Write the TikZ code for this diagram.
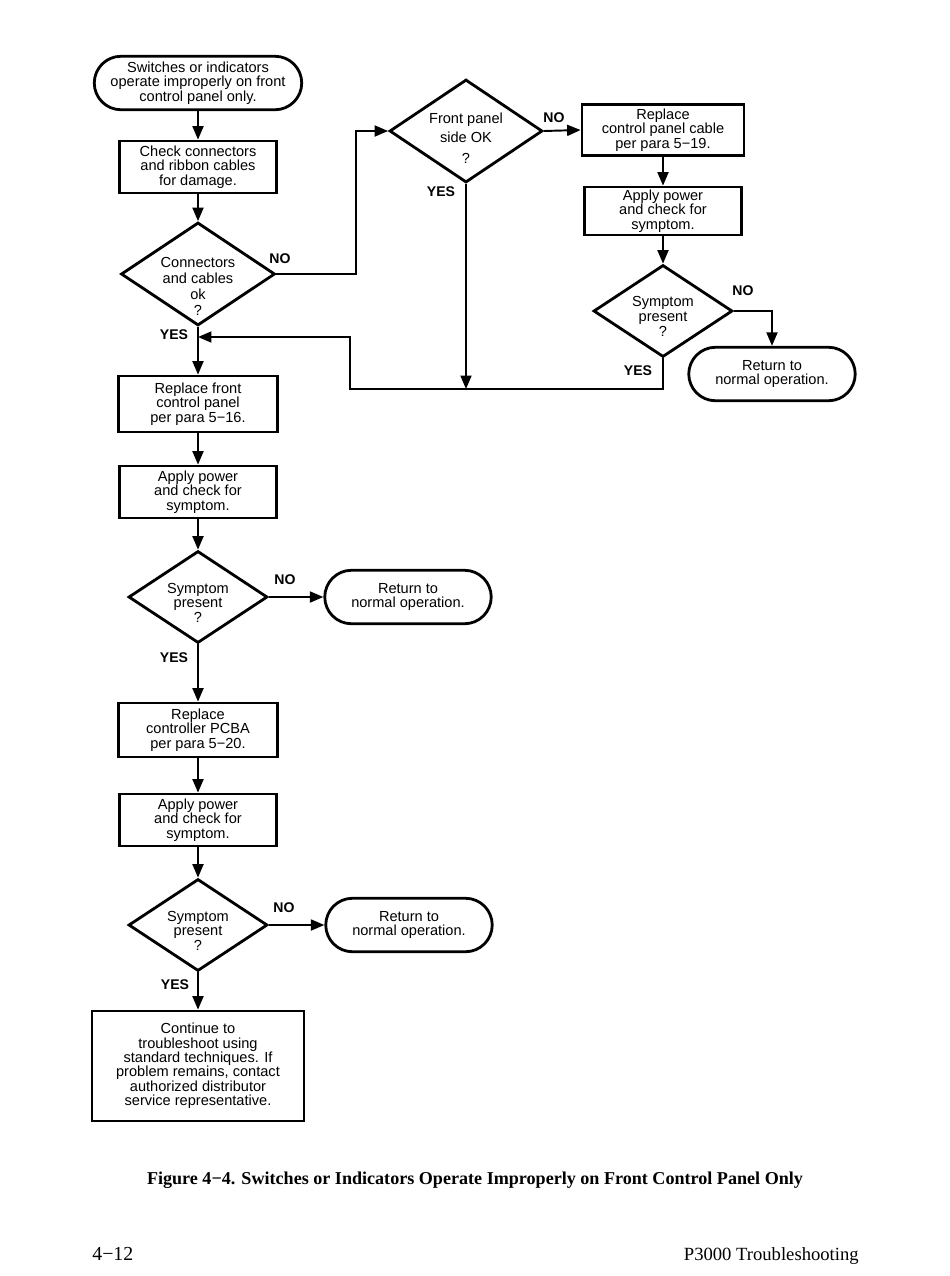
\documentclass[tikz,border=0pt]{standalone}
\usepackage{fontspec}
\setmainfont{Liberation Sans}
\newfontfamily\capfont{Liberation Serif}
\usetikzlibrary{shapes.geometric,shapes.misc,arrows.meta}

% text inside a decision, lowered by #1 and not widening the diamond
\newcommand{\dtext}[2]{\raisebox{#1}[0pt][0pt]{\begin{tabular}{@{}c@{}}#2\end{tabular}}}

\begin{document}
\begin{tikzpicture}[x=0.02cm,y=-0.02cm,
  termbox/.style={rounded rectangle,draw,line width=1.6pt,fill=white,minimum width=3.4cm,
                  minimum height=1.07cm,align=center,inner sep=1pt,
                  font=\fontsize{8.3}{8.2}\selectfont},
  procbox/.style={rectangle,draw,line width=1.6pt,fill=white,minimum width=3.14cm,
                  minimum height=1.04cm,align=center,inner sep=1pt,
                  font=\fontsize{8.3}{8.2}\selectfont},
  decision/.style={diamond,draw,line width=1.6pt,fill=white,aspect=1.5,inner sep=0pt,
                   minimum width=2.78cm,minimum height=1.84cm,
                   font=\fontsize{8.3}{8.3}\selectfont},
  arr/.style={-{Triangle[length=2.7mm,width=2.2mm]},line width=1.1pt},
  yesno/.style={font=\fontsize{8}{9}\selectfont\bfseries},
]
\useasboundingbox (0,0) rectangle (950,1276);

% Main column
\node[termbox,minimum width=4.22cm] (start) at (198,83)
  {Switches or indicators\\operate improperly on front\\control panel only.};
\node[procbox] (check) at (198,167) {Check connectors\\and ribbon cables\\for damage.};
\node[decision,minimum width=3.08cm,minimum height=2.06cm,font=\fontsize{8.3}{9.1}\selectfont] (conn) at (198,274)
  {\dtext{-10.2pt}{Connectors\\and cables\\ok\\?}};
\node[procbox,minimum width=3.18cm,minimum height=1.12cm] (rfront) at (198,404)
  {Replace front\\control panel\\per para 5−16.};
\node[procbox] (apply2) at (198,492) {Apply power\\and check for\\symptom.};
\node[decision] (sym2) at (198,597) {\dtext{-6.5pt}{Symptom\\present\\?}};
\node[termbox] (ret2) at (408,597) {Return to\\normal operation.};
\node[procbox,minimum width=3.18cm,minimum height=1.08cm] (pcba) at (198,730)
  {Replace\\controller PCBA\\per para 5−20.};
\node[procbox] (apply3) at (198,820) {Apply power\\and check for\\symptom.};
\node[decision] (sym3) at (198,925) {\dtext{-6.5pt}{Symptom\\present\\?}};
\node[termbox] (ret3) at (409,925) {Return to\\normal operation.};
\node[procbox,minimum width=4.24cm,minimum height=2.2cm] (cont) at (198,1066)
  {Continue to\\troubleshoot using\\standard techniques. If\\problem remains, contact\\authorized distributor\\service representative.};

% Right branch
\node[decision,minimum width=3.06cm,minimum height=2.06cm,font=\fontsize{8.3}{10.8}\selectfont] (front) at (466,131)
  {\dtext{-7pt}{Front panel\\side OK\\[1pt]?}};
\node[procbox,minimum width=3.24cm,minimum height=1.02cm] (rcable) at (663,130)
  {Replace\\control panel cable\\per para 5−19.};
\node[procbox,minimum height=0.96cm] (apply1) at (663,211) {Apply power\\and check for\\symptom.};
\node[decision] (sym1) at (663,311) {\dtext{-6.3pt}{Symptom\\present\\?}};
\node[termbox] (ret1) at (772,374) {Return to\\normal operation.};

\coordinate (merge) at (466,389);
\coordinate (rejoin) at (198,337);

% Arrows
\draw[arr] (start) -- (check);
\draw[arr] (check) -- (conn);
\draw[arr] (conn.east) -- ++(80,0) |- (front.west);
\draw[arr] (front.east) -- (rcable.west);
\draw[arr] (rcable) -- (apply1);
\draw[arr] (apply1) -- (sym1);
\draw[arr] (sym1.east) -| (ret1.north);
\draw[arr] (front.south) -- (merge);
\draw[arr] (sym1.south) |- (350,389) |- (rejoin);
\draw[arr] (conn.south) -- (rfront.north);
\draw[arr] (rfront) -- (apply2);
\draw[arr] (apply2) -- (sym2);
\draw[arr] (sym2.east) -- (ret2.west);
\draw[arr] (sym2.south) -- (pcba.north);
\draw[arr] (pcba) -- (apply3);
\draw[arr] (apply3) -- (sym3);
\draw[arr] (sym3.east) -- (ret3.west);
\draw[arr] (sym3.south) -- (cont.north);

% YES / NO labels
\node[yesno] (no1) at (280,259) {NO};
\node[yesno] (yes1) at (174,335) {YES};
\node[yesno] (no2) at (554,118) {NO};
\node[yesno] (yes2) at (441,192) {YES};
\node[yesno] (no3) at (743,291) {NO};
\node[yesno] (yes3) at (638,371) {YES};
\node[yesno] (no4) at (285,580) {NO};
\node[yesno] (yes4) at (174,658) {YES};
\node[yesno] (no5) at (284,908) {NO};
\node[yesno] (yes5) at (175,985) {YES};

% Caption and footer
\node[font=\capfont\fontsize{10.3}{12}\selectfont\bfseries] (caption) at (475,1180)
  {Figure 4−4. Switches or Indicators Operate Improperly on Front Control Panel Only};
\node[font=\capfont\fontsize{11.3}{13}\selectfont,anchor=base west,inner sep=0pt] (pagenum) at (92,1260) {4−12};
\node[font=\capfont\fontsize{10.6}{13}\selectfont,anchor=base east,inner sep=0pt] (chapter) at (859,1260) {P3000 Troubleshooting};

\end{tikzpicture}
\end{document}
